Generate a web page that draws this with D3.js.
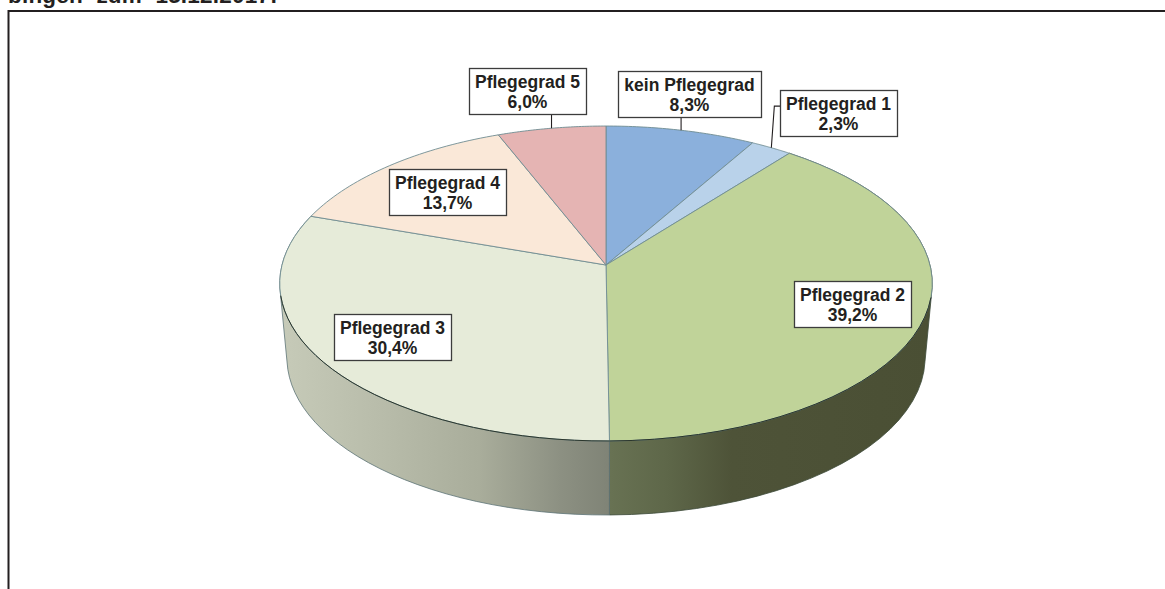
<!DOCTYPE html>
<html>
<head>
<meta charset="utf-8">
<title>Pflegegrad</title>
<script src="https://cdnjs.cloudflare.com/ajax/libs/d3/7.8.5/d3.min.js"></script>
<style>
  html, body { margin: 0; padding: 0; background: #fff; overflow: hidden; }
  svg { display: block; }
  text { font-family: "Liberation Sans", Arial, sans-serif; font-weight: bold; fill: #231f20; }
</style>
</head>
<body>
<div id="container"></div>
<script>
const categories = ['kein Pflegegrad', 'Pflegegrad 1', 'Pflegegrad 2', 'Pflegegrad 3', 'Pflegegrad 4', 'Pflegegrad 5'],
  shares = [8.3, 2.3, 39.2, 30.4, 13.7, 6.0],
  shareLabels = ['8,3%', '2,3%', '39,2%', '30,4%', '13,7%', '6,0%'],
  colours = ['#8bb0dc', '#b9d2ea', '#c0d399', '#e6ebd9', '#fae8d8', '#e5b4b3'],
  titleText = 'bingen zum 15.12.2017:';

// label boxes, left/top corner, same order as categories
const boxes = [
  { x: 618, y: 71, w: 143 },
  { x: 780, y: 90, w: 117 },
  { x: 794, y: 281, w: 117 },
  { x: 334, y: 314, w: 117 },
  { x: 389, y: 169, w: 117 },
  { x: 469, y: 68, w: 117 }
];
const boxHeight = 46;

const width = 1165, height = 589,
  cx = 606, cy = 265,
  radiusX = 324, radiusY = 155.3,
  tilt = 0.1175,
  depth = 74,
  bottomScale = 0.978;

// perspective projection of a point on the pie rim, angle 0 is the back
const project = (angle, r = 1) => {
  const u = r * Math.sin(angle),
    v = -r * Math.cos(angle),
    w = 1 - tilt * v;
  return [cx + radiusX * u / w, cy + radiusY * v / w];
};
const projectBottom = (angle) => {
  const p = project(angle);
  return [cx + (p[0] - cx) * bottomScale, p[1] + depth];
};
const rimAngles = (d) => d3.range(0, 41).map(i => d.startAngle + (d.endAngle - d.startAngle) * i / 40);

const pie = d3.pie().sort(null).value(d => d),
  slices = pie(shares),
  line = d3.line();

const svg = d3.select('#container')
  .append('svg')
    .attr('width', width)
    .attr('height', height);

const defs = svg.append('defs');
const wallGradients = [
  { id: 'wall2', x1: 610, x2: 930, stops: [[0, '#687253'], [0.18, '#5e6749'], [0.38, '#4e5338'], [1, '#4a4f34']] },
  { id: 'wall3', x1: 283, x2: 610, stops: [[0, '#c6cab8'], [0.3, '#b8bcaa'], [0.6, '#a9ad9b'], [0.85, '#8c9082'], [1, '#7f8376']] }
];
wallGradients.forEach(g => {
  defs.append('linearGradient')
    .attr('id', g.id)
    .attr('gradientUnits', 'userSpaceOnUse')
    .attr('x1', g.x1).attr('x2', g.x2)
    .attr('y1', 0).attr('y2', 0)
    .selectAll('stop')
    .data(g.stops)
    .enter()
    .append('stop')
      .attr('offset', d => d[0])
      .attr('stop-color', d => d[1]);
});

// title, cut off by the top edge as in the source picture
svg.append('text')
  .attr('x', 8)
  .attr('y', 3)
  .attr('font-size', 22.5)
  .attr('word-spacing', 7)
  .attr('letter-spacing', 0.2)
  .text(titleText);

// frame, runs off the right and bottom edge
svg.append('path')
  .attr('d', `M8.5,${height}V11H${width}`)
  .attr('fill', 'none')
  .attr('stroke', '#231f20')
  .attr('stroke-width', 2);

// side walls
svg.append('g')
  .selectAll('path')
  .data(slices)
  .enter()
  .append('path')
    .attr('d', d => {
      const angles = rimAngles(d),
        hull = d3.polygonHull(angles.map(a => project(a)).concat(angles.map(projectBottom)));
      return line(hull) + 'Z';
    })
    .attr('fill', (d, i) => i === 2 ? 'url(#wall2)' : i === 3 ? 'url(#wall3)' : 'none')
    .attr('stroke', (d, i) => i === 2 ? '#3c4a38' : i === 3 ? '#5d7476' : 'none')
    .attr('stroke-width', 0.8);

// top faces
svg.append('g')
  .selectAll('path')
  .data(slices)
  .enter()
  .append('path')
    .attr('d', d => line([[cx, cy]].concat(rimAngles(d).map(a => project(a)))) + 'Z')
    .attr('fill', (d, i) => colours[i])
    .attr('stroke', '#6f8c92')
    .attr('stroke-width', 0.9)
    .attr('stroke-linejoin', 'round');

// darker front rim
svg.append('g')
  .selectAll('path')
  .data(slices.filter((d, i) => i === 2 || i === 3))
  .enter()
  .append('path')
    .attr('d', d => line(rimAngles(d).filter(a => a > Math.PI * 0.55 && a < Math.PI * 1.45).map(a => project(a))))
    .attr('fill', 'none')
    .attr('stroke', '#2b362c')
    .attr('stroke-width', 1);

// leader lines
const leaderIndex = [0, 1, 5];
svg.append('g')
  .selectAll('path')
  .data(leaderIndex)
  .enter()
  .append('path')
    .attr('d', i => {
      const d = slices[i],
        end = project((d.startAngle + d.endAngle) / 2),
        b = boxes[i];
      if (end[0] > b.x) return line([[end[0], b.y + boxHeight], end]);
      const yMid = b.y + boxHeight * 0.35;
      return line([[b.x, yMid], [end[0] + 3, yMid], end]);
    })
    .attr('fill', 'none')
    .attr('stroke', '#231f20')
    .attr('stroke-width', 1.1);

// labels
const labels = svg.append('g')
  .selectAll('g')
  .data(categories)
  .enter()
  .append('g')
    .attr('transform', (d, i) => `translate(${boxes[i].x},${boxes[i].y})`);

labels.append('rect')
  .attr('x', 0.5)
  .attr('y', 0.5)
  .attr('width', (d, i) => boxes[i].w)
  .attr('height', boxHeight)
  .attr('fill', '#fff')
  .attr('stroke', '#3c3c3c')
  .attr('stroke-width', 1.3);

labels.append('text')
  .attr('x', (d, i) => boxes[i].w / 2)
  .attr('y', 20)
  .attr('text-anchor', 'middle')
  .attr('font-size', 17.5)
  .text(d => d);

labels.append('text')
  .attr('x', (d, i) => boxes[i].w / 2)
  .attr('y', 40)
  .attr('text-anchor', 'middle')
  .attr('font-size', 17.5)
  .text((d, i) => shareLabels[i]);
</script>
</body>
</html>
